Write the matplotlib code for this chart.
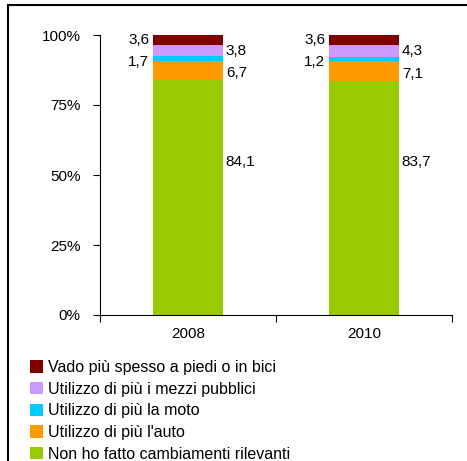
import matplotlib
matplotlib.use("Agg")
import matplotlib.pyplot as plt
from matplotlib.patches import Patch
from matplotlib.lines import Line2D
import numpy as np

plt.rcParams['font.family'] = ['Liberation Sans', 'DejaVu Sans']

years = ["2008", "2010"]
series = ["Non ho fatto cambiamenti rilevanti", "Utilizzo di più l'auto",
          "Utilizzo di più la moto", "Utilizzo di più i mezzi pubblici",
          "Vado più spesso a piedi o in bici"]
values = {
    "Non ho fatto cambiamenti rilevanti": [84.1, 83.7],
    "Utilizzo di più l'auto": [6.7, 7.1],
    "Utilizzo di più la moto": [1.7, 1.2],
    "Utilizzo di più i mezzi pubblici": [3.8, 4.3],
    "Vado più spesso a piedi o in bici": [3.6, 3.6],
}
colors = ["#99CC00", "#FF9900", "#00CCFF", "#CC99FF", "#800000"]
label_side = ["right", "right", "left", "right", "left"]
yticks = [0, 25, 50, 75, 100]
ytick_labels = ["0%", "25%", "50%", "75%", "100%"]

W, H = 467, 461
fig = plt.figure(figsize=(W / 100, H / 100), dpi=100)
ax = fig.add_axes([100 / W, 1 - 315 / H, 352 / W, 280 / H])

x = np.arange(len(years))
bw = 0.4
bottom = np.zeros(len(years))
for s, c, side in zip(series, colors, label_side):
    v = np.array(values[s])
    ax.bar(x, v, bw, bottom=bottom, color=c, linewidth=0)
    for i in range(len(years)):
        txt = f"{v[i]:.1f}".replace(".", ",")
        yc = bottom[i] + v[i] / 2
        if s == series[0]:
            yc = 54.6
        elif s == series[2]:
            yc -= 1.2
        elif s == series[1]:
            yc -= 1.0
        if side == "right":
            ax.text(x[i] + bw / 2 + 0.015, yc, txt, ha="left", va="center", fontsize=11)
        else:
            ax.text(x[i] - bw / 2 - 0.02, yc, txt, ha="right", va="center", fontsize=11)
    bottom += v

ax.set_xlim(-0.5, 1.5)
ax.set_ylim(0, 100)
ax.set_yticks(yticks)
ax.set_yticklabels(ytick_labels, fontsize=11)
ax.set_xticks([-0.5, 0.5, 1.5])
ax.set_xticklabels([])
ax.set_xticks(x, minor=True)
ax.set_xticklabels(years, minor=True, fontsize=11)
ax.tick_params(axis="x", which="minor", length=0, pad=9)
ax.tick_params(axis="x", which="major", direction="out", length=5)
ax.tick_params(axis="y", direction="out", length=5, pad=9)
for sp in ["top", "right"]:
    ax.spines[sp].set_visible(False)

handles = [Patch(facecolor=c, edgecolor="none") for c in colors][::-1]
fig.legend(handles, series[::-1], loc="upper left",
           bbox_to_anchor=(30 / W, 1 - 360 / H), frameon=False,
           fontsize=11.5, handlelength=0.8, handleheight=0.8,
           handletextpad=0.3, labelspacing=0.42, borderpad=0, borderaxespad=0)

fig.add_artist(Line2D([8 / W, 1], [1 - 5 / H, 1 - 5 / H], color="black", lw=1.5))
fig.add_artist(Line2D([8 / W, 8 / W], [1 - 5 / H, 0], color="black", lw=1.5))

fig.savefig("out.png", dpi=100)
